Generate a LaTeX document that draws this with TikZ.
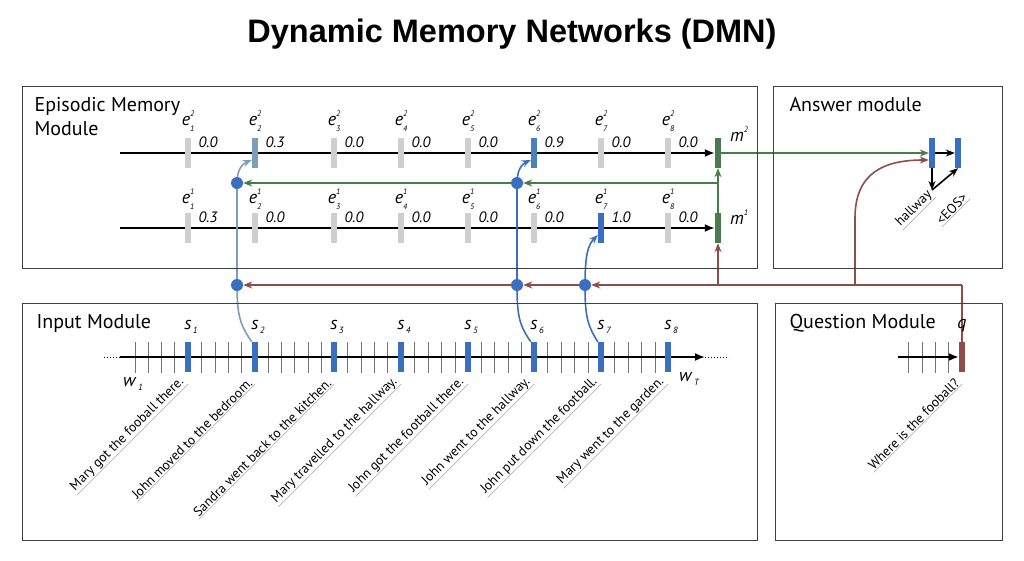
\documentclass[tikz,border=0pt]{standalone}
\usepackage{fontspec}
\setmainfont{PT Sans}
\newfontfamily\titlefont{Liberation Sans}
\usetikzlibrary{arrows.meta,backgrounds}

\definecolor{barblue}{HTML}{3A6EC0}
\definecolor{barsteel}{HTML}{7E9DB8}
\definecolor{barmid}{HTML}{4C80B8}
\definecolor{bargray}{HTML}{CFCFCF}
\definecolor{memgreen}{HTML}{4A7B4A}
\definecolor{qbrown}{HTML}{8C4E4B}

\newcommand{\idx}[3]{\textit{#1}\rlap{\raisebox{1.0ex}{\fontsize{8}{8}\selectfont\itshape #2}}\raisebox{-0.6ex}{\fontsize{8}{8}\selectfont\itshape #3}}
\newcommand{\sub}[2]{\textit{#1}\raisebox{-0.4ex}{\fontsize{9}{9}\selectfont\itshape\,#2}}

\tikzset{
  modbox/.style={draw=black!75, line width=1pt},
  modlabel/.style={anchor=north west, align=left, font=\fontsize{20}{24}\selectfont},
  gbar/.style={rectangle, fill=bargray, minimum width=6pt, minimum height=30pt, inner sep=0pt},
  bbar/.style={gbar, fill=barblue},
  mbar/.style={gbar, fill=memgreen},
  qbar/.style={gbar, fill=qbrown},
  dot/.style={circle, fill=barblue, minimum size=12pt, inner sep=0pt},
  elab/.style={font=\fontsize{18}{20}\selectfont},
  vlab/.style={anchor=west, font=\itshape\fontsize{15}{17}\selectfont},
  sent/.style={rotate=45, anchor=south east, inner sep=1pt, font=\fontsize{13.5}{15}\selectfont},
  uline/.style={draw=black!35, line width=0.6pt},
  tick/.style={draw=black!55, line width=0.8pt},
  flow/.style={line width=1.8pt, -{Latex[length=10pt,width=8pt]}},
  garrow/.style={draw=memgreen, line width=1.6pt, -{Stealth[length=9pt,width=7pt]}},
  rarrow/.style={draw=qbrown, line width=1.6pt, -{Stealth[length=9pt,width=7pt]}},
  rline/.style={draw=qbrown, line width=1.6pt},
  barrow/.style={draw=barblue, line width=1.6pt, -{Stealth[length=9pt,width=7pt]}},
  larrow/.style={draw=barsteel, line width=1.6pt, -{Stealth[length=9pt,width=7pt]}},
  karrow/.style={line width=1.6pt, -{Stealth[length=9pt,width=7pt]}}
}

\begin{document}
\begin{tikzpicture}[x=1pt, y=-1pt]
  \useasboundingbox (0,0) rectangle (1024,560);

  % title and module boxes
  \node (title) at (512,34) {\titlefont\bfseries\fontsize{32.5}{38}\selectfont Dynamic Memory Networks (DMN)};
  \draw[modbox] (22,86) rectangle (757,268);
  \draw[modbox] (773,86) rectangle (1002,268);
  \draw[modbox] (22,303) rectangle (757,540);
  \draw[modbox] (775,303) rectangle (1002,540);
  \node[modlabel] (epi) at (31,94) {Episodic Memory\\Module};
  \node[modlabel] (ans) at (786,94) {Answer module};
  \node[modlabel] (inp) at (33,311) {Input Module};
  \node[modlabel] (qst) at (786,311) {Question Module};

  % episodic memory, pass 2
  \node[gbar] (e21) at (188,153) {};
  \node[gbar, fill=barsteel] (e22) at (255,153) {};
  \node[gbar] (e23) at (334,153) {};
  \node[gbar] (e24) at (401,153) {};
  \node[gbar] (e25) at (468,153) {};
  \node[gbar, fill=barmid] (e26) at (534,153) {};
  \node[gbar] (e27) at (601,153) {};
  \node[gbar] (e28) at (668,153) {};
  \node[mbar] (m2) at (718,153) {};
  \node[elab] at (188,121) {\idx{e}{2}{1}};
  \node[elab] at (255,121) {\idx{e}{2}{2}};
  \node[elab] at (334,121) {\idx{e}{2}{3}};
  \node[elab] at (401,121) {\idx{e}{2}{4}};
  \node[elab] at (468,121) {\idx{e}{2}{5}};
  \node[elab] at (534,121) {\idx{e}{2}{6}};
  \node[elab] at (601,121) {\idx{e}{2}{7}};
  \node[elab] at (668,121) {\idx{e}{2}{8}};
  \node[elab] at (737,137) {\idx{m}{2}{}};
  \node[vlab] at (195,142) {0.0};
  \node[vlab] at (262,142) {0.3};
  \node[vlab] at (341,142) {0.0};
  \node[vlab] at (408,142) {0.0};
  \node[vlab] at (475,142) {0.0};
  \node[vlab] at (541,142) {0.9};
  \node[vlab] at (608,142) {0.0};
  \node[vlab] at (675,142) {0.0};

  % episodic memory, pass 1
  \node[gbar] (e11) at (188,228) {};
  \node[gbar] (e12) at (255,228) {};
  \node[gbar] (e13) at (334,228) {};
  \node[gbar] (e14) at (401,228) {};
  \node[gbar] (e15) at (468,228) {};
  \node[gbar] (e16) at (534,228) {};
  \node[bbar] (e17) at (601,228) {};
  \node[gbar] (e18) at (668,228) {};
  \node[mbar] (m1) at (718,228) {};
  \node[elab] at (188,199) {\idx{e}{1}{1}};
  \node[elab] at (255,199) {\idx{e}{1}{2}};
  \node[elab] at (334,199) {\idx{e}{1}{3}};
  \node[elab] at (401,199) {\idx{e}{1}{4}};
  \node[elab] at (468,199) {\idx{e}{1}{5}};
  \node[elab] at (534,199) {\idx{e}{1}{6}};
  \node[elab] at (601,199) {\idx{e}{1}{7}};
  \node[elab] at (668,199) {\idx{e}{1}{8}};
  \node[elab] at (737,220) {\idx{m}{1}{}};
  \node[vlab] at (195,217) {0.3};
  \node[vlab] at (262,217) {0.0};
  \node[vlab] at (341,217) {0.0};
  \node[vlab] at (408,217) {0.0};
  \node[vlab] at (475,217) {0.0};
  \node[vlab] at (541,217) {0.0};
  \node[vlab] at (608,217) {1.0};
  \node[vlab] at (675,217) {0.0};

  % gates
  \node[dot] (d2t) at (237,183) {};
  \node[dot] (d6t) at (517,183) {};
  \node[dot] (d2b) at (237,285) {};
  \node[dot] (d6b) at (517,285) {};
  \node[dot] (d7b) at (585,285) {};
  \coordinate (gj) at (718,183);
  \coordinate (mj) at (718,285);
  \coordinate (aj) at (855,285);
  \coordinate (qj) at (962,285);
  \coordinate (l2) at (120,153);
  \coordinate (l1) at (120,228);

  % input module
  \node[bbar] (s1) at (188,357) {};
  \node[bbar] (s2) at (255,357) {};
  \node[bbar] (s3) at (334,357) {};
  \node[bbar] (s4) at (401,357) {};
  \node[bbar] (s5) at (468,357) {};
  \node[bbar] (s6) at (534,357) {};
  \node[bbar] (s7) at (601,357) {};
  \node[bbar] (s8) at (668,357) {};
  \node[elab] at (191,327) {\sub{s}{1}};
  \node[elab] at (258,327) {\sub{s}{2}};
  \node[elab] at (337,327) {\sub{s}{3}};
  \node[elab] at (404,327) {\sub{s}{4}};
  \node[elab] at (471,327) {\sub{s}{5}};
  \node[elab] at (537,327) {\sub{s}{6}};
  \node[elab] at (604,327) {\sub{s}{7}};
  \node[elab] at (671,327) {\sub{s}{8}};
  \node[elab] (w1) at (133,384) {\sub{w}{1}};
  \node[elab] (wt) at (689,379) {\sub{w}{T}};
  \coordinate (in0) at (120,357);
  \coordinate (in1) at (705,357);
  \node[sent] (t1) at ([yshift=-12pt]s1.south) {Mary got the fooball there.};
  \node[sent] (t2) at ([yshift=-12pt]s2.south) {John moved to the bedroom.};
  \node[sent] (t3) at ([yshift=-12pt]s3.south) {Sandra went back to the kitchen.};
  \node[sent] (t4) at ([yshift=-12pt]s4.south) {Mary travelled to the hallway.};
  \node[sent] (t5) at ([yshift=-12pt]s5.south) {John got the football there.};
  \node[sent] (t6) at ([yshift=-12pt]s6.south) {John went to the hallway.};
  \node[sent] (t7) at ([yshift=-12pt]s7.south) {John put down the football.};
  \node[sent] (t8) at ([yshift=-12pt]s8.south) {Mary went to the garden.};

  % question and answer modules
  \node[qbar] (q) at (962,357) {};
  \node[elab] at (962,326) {\textit{q}};
  \coordinate (q0) at (898,357);
  \node[sent] (tq) at ([yshift=-12pt]q.south) {Where is the fooball?};
  \node[bbar] (a1) at (932,153) {};
  \node[bbar] (a2) at (958,153) {};
  \coordinate (ah) at (932,190);
  \node[sent] (th) at (936,197) {hallway};
  \node[sent] (te) at (970,199) {<EOS>};

  \begin{scope}[on background layer]
    \draw[flow] (l2) -- (m2.west);
    \draw[flow] (l1) -- (m1.west);
    \draw[tick]
      (135,342) -- (135,373) (148,342) -- (148,373) (161,342) -- (161,373) (174,342) -- (174,373)
      (201,342) -- (201,373) (215,342) -- (215,373) (228,342) -- (228,373) (241,342) -- (241,373)
      (268,342) -- (268,373) (281,342) -- (281,373) (294,342) -- (294,373) (308,342) -- (308,373)
      (321,342) -- (321,373)
      (347,342) -- (347,373) (361,342) -- (361,373) (374,342) -- (374,373) (387,342) -- (387,373)
      (414,342) -- (414,373) (428,342) -- (428,373) (441,342) -- (441,373) (455,342) -- (455,373)
      (481,342) -- (481,373) (494,342) -- (494,373) (508,342) -- (508,373) (521,342) -- (521,373)
      (547,342) -- (547,373) (561,342) -- (561,373) (574,342) -- (574,373) (588,342) -- (588,373)
      (614,342) -- (614,373) (628,342) -- (628,373) (641,342) -- (641,373) (655,342) -- (655,373);
    \draw[tick] (908,342) -- (908,373) (922,342) -- (922,373) (935,342) -- (935,373) (948,342) -- (948,373);
    \draw[flow] (in0) -- (in1);
    \draw[line width=1pt, dotted] (in0) -- ++(-16,0);
    \draw[line width=1pt, dotted] (in1) -- ++(24,0);
    \draw[flow] (q0) -- (q.west);

    % attention gates
    \draw[larrow] (s2.north west) .. controls (240,325) and (237,315) .. (d2b.center)
      -- (d2t.center) .. controls (237,170) and (242,164) .. ([yshift=-7pt]e22.west);
    \draw[barrow] (s6.north west) .. controls (519,325) and (517,315) .. (d6b.center)
      -- (d6t.center) .. controls (517,170) and (522,164) .. ([yshift=-7pt]e26.west);
    \draw[barrow] (s7.north west) .. controls (587,325) and (585,315) .. (d7b.center)
      .. controls (585,255) and (588,245) .. ([yshift=-7pt]e17.west);

    % memory updates
    \draw[garrow] (m1.north) -- (m2.south);
    \draw[garrow] (gj) -- (d6t);
    \draw[garrow] (d6t) -- (d2t);
    \draw[garrow] (m2.east) -- (a1.west);

    % question vector
    \draw[rline] (q.north) -- (qj);
    \draw[rarrow] (qj) -- (d7b);
    \draw[rarrow] (d7b) -- (d6b);
    \draw[rarrow] (d6b) -- (d2b);
    \draw[rarrow] (mj) -- (m1.south);
    \draw[rarrow] (aj) -- (855,218) .. controls (855,172) and (885,160) .. ([yshift=-7pt]a1.west);

    % answer decoding
    \draw[karrow] (a1.east) -- (a2.west);
    \draw[karrow] (a1.south) -- (ah);
    \draw[karrow] (ah) -- (a2.south);
  \end{scope}

  % underlines
  \draw[uline] (t1.south west) -- (t1.south east);
  \draw[uline] (t2.south west) -- (t2.south east);
  \draw[uline] (t3.south west) -- (t3.south east);
  \draw[uline] (t4.south west) -- (t4.south east);
  \draw[uline] (t5.south west) -- (t5.south east);
  \draw[uline] (t6.south west) -- (t6.south east);
  \draw[uline] (t7.south west) -- (t7.south east);
  \draw[uline] (t8.south west) -- (t8.south east);
  \draw[uline] (tq.south west) -- (tq.south east);
  \draw[uline] (th.south west) -- (th.south east);
  \draw[uline] (te.south west) -- (te.south east);
\end{tikzpicture}
\end{document}
